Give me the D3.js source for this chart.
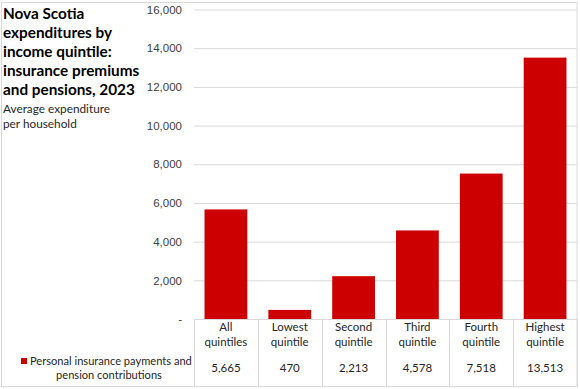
<!DOCTYPE html>
<html>
<head>
<meta charset="utf-8">
<script src="https://cdn.jsdelivr.net/npm/d3@7"></script>
<style>
  body { margin: 0; background: #fff; }
  svg { display: block; font-family: Lato, "Noto Sans", Arial, sans-serif; }
</style>
</head>
<body>
<div id="chart"></div>
<script>
// Data
var categories = ["All quintiles", "Lowest quintile", "Second quintile", "Third quintile", "Fourth quintile", "Highest quintile"];
var headerLines = [["All", "quintiles"], ["Lowest", "quintile"], ["Second", "quintile"], ["Third", "quintile"], ["Fourth", "quintile"], ["Highest", "quintile"]];
var values = [5665, 470, 2213, 4578, 7518, 13513];
var yTicks = [0, 2000, 4000, 6000, 8000, 10000, 12000, 14000, 16000];
var titleLines = ["Nova Scotia", "expenditures by", "income quintile:", "insurance premiums", "and pensions, 2023"];
var subtitleLines = ["Average expenditure", "per household"];
var seriesLabel = ["Personal insurance payments and", "pension contributions"];

var width = 580, height = 389;
var barColor = "#cc0000";
var lineColor = "#d9d9d9";
var textColor = "#262626";

var svg = d3.select("#chart").append("svg")
  .attr("width", width)
  .attr("height", height);

// Chart frame
svg.append("rect")
  .attr("x", 1.5).attr("y", 2.5)
  .attr("width", 575.5).attr("height", 384)
  .attr("fill", "none")
  .attr("stroke", lineColor);

var plotLeft = 194, plotRight = 577, plotTop = 9.5, plotBottom = 319;

var x = d3.scaleBand()
  .domain(categories)
  .range([plotLeft, plotRight])
  .paddingInner(0.33)
  .paddingOuter(0.165);

var y = d3.scaleLinear()
  .domain([0, 16000])
  .range([plotBottom, plotTop]);

var fmt = d3.format(",");

// Gridlines and y axis labels
var yAxis = d3.axisLeft(y)
  .tickValues(yTicks)
  .tickSize(-(plotRight - plotLeft))
  .tickPadding(12)
  .tickFormat(function(d) { return d === 0 ? "-" : fmt(d); });

var gy = svg.append("g")
  .attr("transform", "translate(" + plotLeft + ",0)")
  .call(yAxis);
gy.select(".domain").remove();
gy.selectAll(".tick line").attr("stroke", lineColor);
gy.selectAll(".tick text")
  .attr("fill", "#404040")
  .style("font-size", "11.5px");

// Bars
svg.append("g").selectAll("rect")
  .data(values)
  .enter().append("rect")
    .attr("x", function(d, i) { return x(categories[i]); })
    .attr("y", function(d) { return y(d); })
    .attr("width", x.bandwidth())
    .attr("height", function(d) { return y(0) - y(d); })
    .attr("fill", barColor);

// Data table below the plot
var tableBottom = 386.5;
var step = x.step();
var table = svg.append("g");

table.selectAll("line.col")
  .data(d3.range(categories.length + 1))
  .enter().append("line")
    .attr("class", "col")
    .attr("x1", function(i) { return Math.round(plotLeft + i * step) + 0.5; })
    .attr("x2", function(i) { return Math.round(plotLeft + i * step) + 0.5; })
    .attr("y1", plotBottom)
    .attr("y2", tableBottom)
    .attr("stroke", lineColor);

table.append("line")
  .attr("x1", plotLeft).attr("x2", plotRight)
  .attr("y1", plotBottom + 0.5).attr("y2", plotBottom + 0.5)
  .attr("stroke", lineColor);

var headers = table.selectAll("text.head")
  .data(headerLines)
  .enter().append("text")
    .attr("class", "head")
    .attr("text-anchor", "middle")
    .attr("fill", textColor)
    .style("font-size", "11.5px");
headers.each(function(lines, i) {
  var t = d3.select(this);
  lines.forEach(function(l, k) {
    t.append("tspan")
      .attr("x", x(categories[i]) + x.bandwidth() / 2)
      .attr("y", 331 + k * 15)
      .text(l);
  });
});

table.selectAll("text.val")
  .data(values)
  .enter().append("text")
    .attr("class", "val")
    .attr("text-anchor", "middle")
    .attr("x", function(d, i) { return x(categories[i]) + x.bandwidth() / 2; })
    .attr("y", 372)
    .attr("fill", textColor)
    .style("font-size", "11.5px")
    .text(function(d) { return fmt(d); });

// Legend key in the table's first column
table.append("rect")
  .attr("x", 21).attr("y", 358)
  .attr("width", 6).attr("height", 6)
  .attr("fill", barColor);

var legendText = table.append("text")
  .attr("fill", textColor)
  .style("font-size", "11.1px");
legendText.append("tspan").attr("x", 30).attr("y", 365).text(seriesLabel[0]);
legendText.append("tspan").attr("x", 109).attr("y", 379).attr("text-anchor", "middle").text(seriesLabel[1]);

// Title and subtitle
var title = svg.append("text")
  .attr("fill", "#000")
  .style("font-size", "15.3px")
  .style("font-weight", "bold");
titleLines.forEach(function(l, k) {
  title.append("tspan").attr("x", 3).attr("y", 18.5 + k * 19.2).text(l);
});

var sub = svg.append("text")
  .attr("fill", textColor)
  .style("font-size", "11.8px");
subtitleLines.forEach(function(l, k) {
  sub.append("tspan").attr("x", 3).attr("y", 113 + k * 15).text(l);
});
</script>
</body>
</html>
